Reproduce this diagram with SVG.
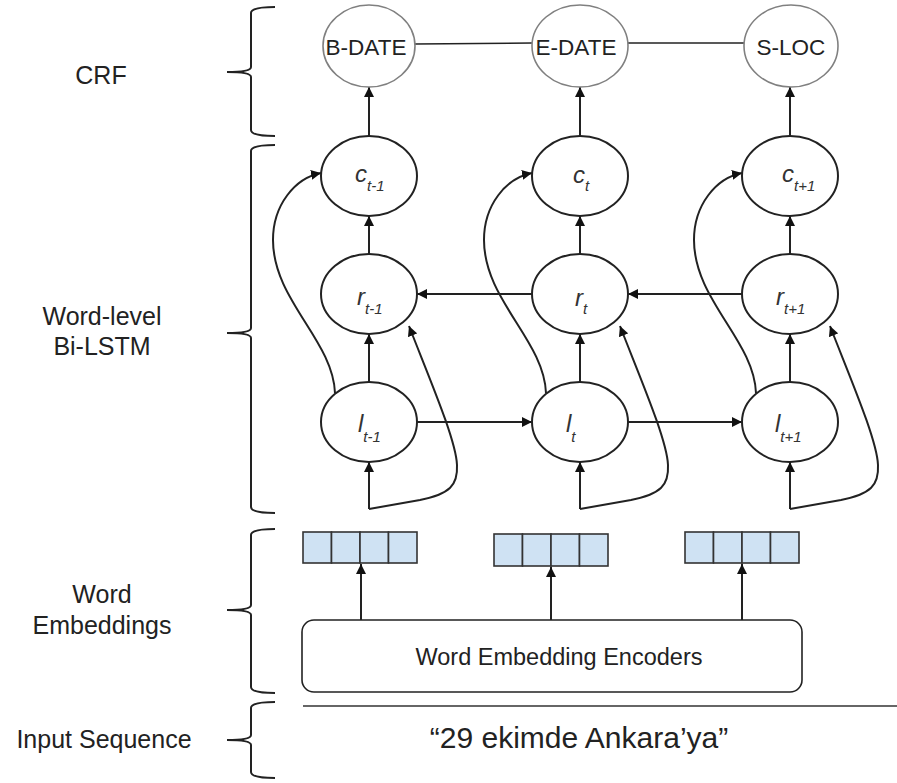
<svg xmlns="http://www.w3.org/2000/svg" width="897" height="783" viewBox="0 0 897 783">
<style>
.lbl{font-family:"Liberation Sans",Arial,sans-serif;font-size:25px;fill:#222;text-anchor:middle}
.crf{fill:#fff;stroke:#808080;stroke-width:1.6}
.crft{font-family:"Liberation Sans",Arial,sans-serif;font-size:22.5px;fill:#222;text-anchor:middle}
.n{fill:#fff;stroke:#222;stroke-width:2}
.nt{font-family:"Liberation Sans",Arial,sans-serif;font-style:italic;font-size:24px;fill:#333}
.sub{font-size:15px}
.ln{fill:none;stroke:#222;stroke-width:2}
.arr{fill:none;stroke:#222;stroke-width:2;marker-end:url(#ah)}
.brace{fill:none;stroke:#222;stroke-width:2}
.cell{fill:#cfe2f3;stroke:#333;stroke-width:1.6}
</style>
<defs>
<marker id="ah" viewBox="0 0 10 10" refX="10" refY="5" markerWidth="5" markerHeight="5" orient="auto" markerUnits="strokeWidth">
<path d="M0,0 L10,5 L0,10 z" fill="#111"/>
</marker>
</defs>
<rect width="897" height="783" fill="#fff"/>

<g id="braces">
<path class="brace" d="M275,7 Q251,7 251,13 L251,67 Q251,72 227,72 Q251,72 251,77 L251,130 Q251,136 275,136"/>
<path class="brace" d="M275,145 Q251,145 251,151 L251,328 Q251,333 227,333 Q251,333 251,338 L251,507 Q251,513 275,513"/>
<path class="brace" d="M275,529 Q251,529 251,535 L251,605 Q251,610 227,610 Q251,610 251,615 L251,687 Q251,693 275,693"/>
<path class="brace" d="M275,702 Q251,702 251,708 L251,735 Q251,740 227,740 Q251,740 251,745 L251,772 Q251,778 275,778"/>
</g>

<g id="labels">
<text class="lbl" x="101" y="84">CRF</text>
<text class="lbl" x="102" y="325">Word-level</text>
<text class="lbl" x="102" y="355">Bi-LSTM</text>
<text class="lbl" x="102" y="603">Word</text>
<text class="lbl" x="102" y="634">Embeddings</text>
<text class="lbl" x="104" y="748">Input Sequence</text>
</g>

<g id="connectors">
<!-- CRF chain -->
<line class="ln" x1="415" y1="44" x2="532" y2="43" style="stroke-width:1.6"/>
<line class="ln" x1="628" y1="43" x2="745" y2="43" style="stroke-width:1.6"/>
<!-- c to CRF -->
<line class="arr" x1="369" y1="136" x2="369" y2="87"/>
<line class="arr" x1="580" y1="136" x2="580" y2="87"/>
<line class="arr" x1="790" y1="136" x2="790" y2="87"/>
<!-- r to c -->
<line class="arr" x1="369" y1="254" x2="369" y2="216"/>
<line class="arr" x1="580" y1="254" x2="580" y2="216"/>
<line class="arr" x1="790" y1="254" x2="790" y2="216"/>
<!-- l to r -->
<line class="arr" x1="369" y1="382" x2="369" y2="334"/>
<line class="arr" x1="580" y1="382" x2="580" y2="334"/>
<line class="arr" x1="790" y1="382" x2="790" y2="334"/>
<!-- backward r -->
<line class="arr" x1="532" y1="294" x2="417" y2="294"/>
<line class="arr" x1="742" y1="294" x2="628" y2="294"/>
<!-- forward l -->
<line class="arr" x1="417" y1="422" x2="532" y2="422"/>
<line class="arr" x1="628" y1="422" x2="742" y2="422"/>
<!-- input to l -->
<line class="arr" x1="369" y1="509" x2="369" y2="462"/>
<line class="arr" x1="580" y1="509" x2="580" y2="462"/>
<line class="arr" x1="790" y1="509" x2="790" y2="462"/>
<!-- l to c curves -->
<path class="arr" d="M335,393 C333,340 273,300 273,240 C273,205 295,178 321,173"/>
<path class="arr" d="M546,393 C544,340 484,300 484,240 C484,205 506,178 532,173"/>
<path class="arr" d="M756,393 C754,340 694,300 694,240 C694,205 716,178 742,173"/>
<!-- input to r curves -->
<path class="arr" d="M369,509 L420,500 C450,494 458,485 457,465 C456,440 430,380 409,326"/>
<path class="arr" d="M580,509 L631,500 C661,494 669,485 668,465 C667,440 641,380 620,326"/>
<path class="arr" d="M790,509 L841,500 C871,494 879,485 878,465 C877,440 851,380 830,326"/>
<!-- encoder to embeddings -->
<line class="arr" x1="361" y1="620" x2="361" y2="564"/>
<line class="arr" x1="551" y1="620" x2="551" y2="567"/>
<line class="arr" x1="742" y1="620" x2="742" y2="564"/>
</g>

<g id="crf-bdate"><ellipse class="crf" cx="369" cy="46" rx="46" ry="41"/><text class="crft" x="366" y="55">B-DATE</text></g>
<g id="crf-edate"><ellipse class="crf" cx="580" cy="46" rx="48" ry="41"/><text class="crft" x="576" y="55">E-DATE</text></g>
<g id="crf-sloc"><ellipse class="crf" cx="791" cy="46" rx="47" ry="41"/><text class="crft" x="791" y="55">S-LOC</text></g>

<g id="c1"><ellipse class="n" cx="369" cy="176" rx="48" ry="40"/><text class="nt" x="355" y="182">c<tspan class="sub" dy="9">t-1</tspan></text></g>
<g id="c2"><ellipse class="n" cx="580" cy="176" rx="48" ry="40"/><text class="nt" x="573" y="183">c<tspan class="sub" dy="8">t</tspan></text></g>
<g id="c3"><ellipse class="n" cx="790" cy="176" rx="48" ry="40"/><text class="nt" x="782" y="182">c<tspan class="sub" dy="9">t+1</tspan></text></g>

<g id="r1"><ellipse class="n" cx="369" cy="294" rx="48" ry="40"/><text class="nt" x="357" y="305">r<tspan class="sub" dy="9">t-1</tspan></text></g>
<g id="r2"><ellipse class="n" cx="580" cy="294" rx="48" ry="40"/><text class="nt" x="575" y="306">r<tspan class="sub" dy="8">t</tspan></text></g>
<g id="r3"><ellipse class="n" cx="790" cy="294" rx="48" ry="40"/><text class="nt" x="776" y="305">r<tspan class="sub" dy="9">t+1</tspan></text></g>

<g id="l1"><ellipse class="n" cx="369" cy="422" rx="48" ry="40"/><text class="nt" x="358" y="432">l<tspan class="sub" dy="10">t-1</tspan></text></g>
<g id="l2"><ellipse class="n" cx="580" cy="422" rx="48" ry="40"/><text class="nt" x="566" y="432">l<tspan class="sub" dy="10">t</tspan></text></g>
<g id="l3"><ellipse class="n" cx="790" cy="422" rx="48" ry="40"/><text class="nt" x="775" y="432">l<tspan class="sub" dy="10">t+1</tspan></text></g>

<g id="emb1">
<rect class="cell" x="303" y="532" width="28.5" height="31"/><rect class="cell" x="331.5" y="532" width="28.5" height="31"/><rect class="cell" x="360" y="532" width="28.5" height="31"/><rect class="cell" x="388.5" y="532" width="28.5" height="31"/>
</g>
<g id="emb2">
<rect class="cell" x="494" y="534" width="28.5" height="32"/><rect class="cell" x="522.5" y="534" width="28.5" height="32"/><rect class="cell" x="551" y="534" width="28.5" height="32"/><rect class="cell" x="579.5" y="534" width="28.5" height="32"/>
</g>
<g id="emb3">
<rect class="cell" x="685" y="532" width="28.5" height="31"/><rect class="cell" x="713.5" y="532" width="28.5" height="31"/><rect class="cell" x="742" y="532" width="28.5" height="31"/><rect class="cell" x="770.5" y="532" width="28.5" height="31"/>
</g>

<g id="encoder">
<rect x="302" y="620" width="500" height="72" rx="12" fill="#fff" stroke="#222" stroke-width="1.6"/>
<text class="lbl" x="559" y="665" style="font-size:23.5px">Word Embedding Encoders</text>
</g>

<g id="input">
<line x1="303" y1="706" x2="897" y2="706" stroke="#333" stroke-width="1.6"/>
<text class="lbl" x="579" y="748" style="font-size:30px">“29 ekimde Ankara’ya”</text>
</g>
</svg>
